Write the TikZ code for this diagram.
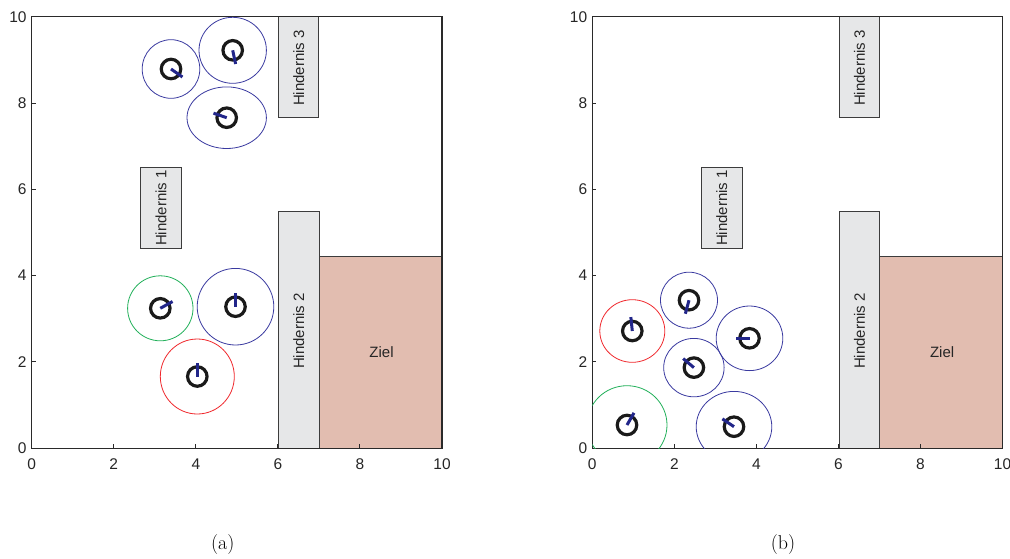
\documentclass[tikz,border=0pt]{standalone}
\usepackage{fontspec}
\setsansfont{Liberation Sans}
\definecolor{framegray}{HTML}{2A2A2A}
\definecolor{labelgray}{HTML}{262626}
\definecolor{obstfill}{HTML}{E6E7E8}
\definecolor{obstedge}{HTML}{3C3C3C}
\definecolor{goalfill}{HTML}{E2BDB0}
\definecolor{ringblack}{HTML}{1A1A1A}
\definecolor{headblue}{HTML}{22268A}
\definecolor{cblue}{HTML}{3A3AA0}
\definecolor{cgreen}{HTML}{22B05A}
\definecolor{cred}{HTML}{F0282D}

% robot: name, x, y, heading angle, envelope colour, x radius, y radius
\newcommand\robotat[7]{%
  \draw[envelope, draw=#5] (#2,#3) ellipse [x radius=#6pt, y radius=#7pt];
  \node[ring] (#1) at (#2,#3) {};
  \draw[heading] (#1.center) -- ++(#4:14pt);
}

% arena with obstacles, goal region and axes; #1 name suffix, #2 horizontal offset
\newcommand\arena[2]{%
  \begin{scope}[xshift=#2pt]
    \path[obst] (140.7,167.7) rectangle (181.5,248.3);
    \node[obstlabel, rotate=90] (hone#1) at (161.1,208) {Hindernis 1};
    \path[obst] (278.8,16.7) rectangle (318.8,117.7);
    \node[obstlabel, rotate=90] (hthree#1) at (298.8,68) {Hindernis 3};
    \path[obst] (278.8,211.7) rectangle (319.2,448.3);
    \node[obstlabel, rotate=90] (htwo#1) at (298.8,331) {Hindernis 2};
    \path[goal] (319.2,256.7) rectangle (442,448.3);
    \node[obstlabel] (goal#1) at (381.5,352.5) {Ziel};
    \draw[frame] (31.7,16.7) rectangle (442,448.3);
    \foreach \i in {0,...,5}{
      \pgfmathtruncatemacro\v{2*\i}
      \draw[tick] ({31.7+82.06*\i},448.3) -- ++(0,-4);
      \draw[tick] (31.7,{448.3-86.32*\i}) -- ++(4,0);
      \node[ticklabel, anchor=base] (xl\i#1) at ({31.7+82.06*\i},469) {\v};
      \node[ticklabel, anchor=east] (yl\i#1) at (26.8,{448.3-86.32*\i}) {\v};
    }
  \end{scope}}

\begin{document}
\begin{tikzpicture}[x=1pt, y=-1pt,
  frame/.style={draw=framegray, line width=1.4pt},
  tick/.style={draw=framegray, line width=1pt},
  ticklabel/.style={font=\sffamily\fontsize{15.5}{15.5}\selectfont, text=labelgray, inner sep=0pt},
  obst/.style={fill=obstfill, draw=obstedge, line width=1pt},
  goal/.style={fill=goalfill, draw=obstedge, line width=1pt},
  obstlabel/.style={font=\sffamily\fontsize{15}{15}\selectfont, text=labelgray, inner sep=0pt},
  ring/.style={circle, draw=ringblack, line width=3.2pt, minimum size=19.5pt, inner sep=0pt},
  heading/.style={draw=headblue, line width=3pt},
  envelope/.style={line width=0.8pt},
  caption/.style={font=\rmfamily\fontsize{20}{20}\selectfont, inner sep=0pt}]
\useasboundingbox (0,0) rectangle (1010,558);
\fill[white] (0,0) rectangle (1010,558);

% panel (a)
\arena{a}{0}
\begin{scope}
  \clip (31.7,16.7) rectangle (442,448.3);
  \robotat{ra1}{171}{69}{-35}{cblue}{28.8}{29.3}
  \robotat{ra2}{232.7}{50.3}{-78}{cblue}{33.7}{33}
  \robotat{ra3}{226.7}{117.7}{161}{cblue}{39.7}{30.8}
  \robotat{ra4}{160.3}{308.3}{29}{cgreen}{32.7}{32.5}
  \robotat{ra5}{235.5}{306.7}{90}{cblue}{38.3}{38.3}
  \robotat{ra6}{197.3}{376.5}{90}{cred}{37}{37.5}
\end{scope}

% panel (b)
\arena{b}{560.6}
\begin{scope}
  \clip (592.3,16.7) rectangle (1002.6,448.3);
  \robotat{rb1}{632.3}{331}{96}{cred}{32.5}{31.3}
  \robotat{rb2}{689}{300.2}{-105}{cblue}{28.5}{28}
  \robotat{rb3}{749.5}{338.3}{180}{cblue}{33.3}{32.3}
  \robotat{rb4}{693.9}{367.6}{140}{cblue}{30.2}{29.2}
  \robotat{rb5}{627}{425}{60}{cgreen}{40}{39.3}
  \robotat{rb6}{734}{426.7}{146}{cblue}{37.8}{35.3}
\end{scope}

\node[caption] (capa) at (222.7,544) {(a)};
\node[caption] (capb) at (783,544) {(b)};
\end{tikzpicture}
\end{document}
